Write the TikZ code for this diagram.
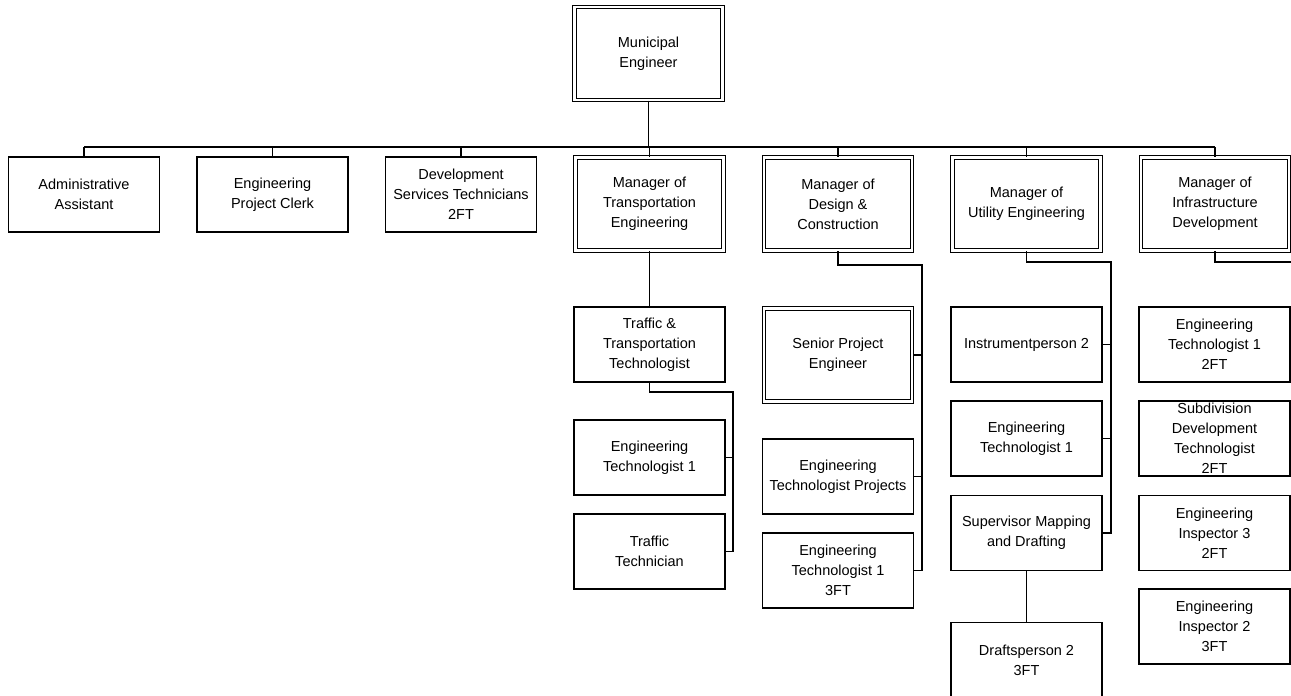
\documentclass[tikz,border=0pt]{standalone}
\usepackage{fontspec}
\setmainfont{Liberation Sans}
\usetikzlibrary{positioning}

\begin{document}
\begin{tikzpicture}[
  x=1pt,
  y=1pt,
  node distance=188.5pt
]

  \tikzstyle{postnode}=[draw,rectangle,line width=1.1pt,fill=white,minimum width=151pt,minimum height=75pt,inner sep=1pt,align=center,font=\fontsize{14.5}{20}\selectfont]
  \tikzstyle{postnodedbl}=[postnode,double,double distance=2.5pt,minimum width=148pt,minimum height=93pt]
  \tikzstyle{link}=[draw,line width=1.2pt]

  \useasboundingbox (0,0) rectangle (1291,696);
  \clip (0,0) rectangle (1291,696);

  % nodes
  \node[postnodedbl] (top) at (648.5,642.5) {Municipal\\Engineer};

  \node[postnode] (admin) at (84,501.5) {Administrative\\Assistant};
  \node[postnode] (clerk) [right of=admin] {Engineering\\Project Clerk};
  \node[postnode] (devtech) [right of=clerk] {Development\\Services Technicians\\2FT};
  \node[postnodedbl] (mtrans) [right of=devtech, yshift=-9.5pt] {Manager of\\Transportation\\Engineering};
  \node[postnodedbl] (mdesign) [right of=mtrans] {Manager of\\Design \&\\Construction};
  \node[postnodedbl] (mutil) [right of=mdesign] {Manager of\\Utility Engineering};
  \node[postnodedbl] (minfra) [right of=mutil] {Manager of\\Infrastructure\\Development};

  \node[postnode] (ttt) at (649.5,351.5) {Traffic \&\\Transportation\\Technologist};
  \node[postnode] (ttech) at (649.5,238.5) {Engineering\\Technologist 1};
  \node[postnode] (traffic) at (649.5,144.5) {Traffic\\Technician};

  \node[postnodedbl] (senior) at (838,341) {Senior Project\\Engineer};
  \node[postnode] (etproj) at (838,219.5) {Engineering\\Technologist Projects};
  \node[postnode] (et3) at (838,125.5) {Engineering\\Technologist 1\\3FT};

  \node[postnode] (instr) at (1026.5,351.5) {Instrumentperson 2};
  \node[postnode] (uet) at (1026.5,257.5) {Engineering\\Technologist 1};
  \node[postnode] (superv) at (1026.5,163) {Supervisor Mapping\\and Drafting};
  \node[postnode] (drafts) at (1026.5,36) {Draftsperson 2\\3FT};

  \node[postnode] (iet) at (1214.5,351.5) {Engineering\\Technologist 1\\2FT};
  \node[postnode] (subdiv) at (1214.5,257.5) {Subdivision\\Development\\Technologist\\2FT};
  \node[postnode] (insp3) at (1214.5,163) {Engineering\\Inspector 3\\2FT};
  \node[postnode] (insp2) at (1214.5,69.5) {Engineering\\Inspector 2\\3FT};

  % lines
  \coordinate (bar) at (0,549);
  \draw[link] (top.south) -- (top.south |- bar);
  \draw[link] (admin.north |- bar) -- (minfra.north |- bar);
  \foreach \n in {admin,clerk,devtech,mtrans,mdesign,mutil,minfra}
    \draw[link] (\n.north |- bar) -- (\n.north);

  \coordinate (ttrunk) at (733,304);
  \draw[link] (mtrans.south) -- (ttt.north);
  \draw[link] (ttt.south) |- (ttrunk) |- (traffic.east);
  \draw[link] (ttrunk |- ttech.east) -- (ttech.east);

  \coordinate (dtrunk) at (922,431);
  \draw[link] (mdesign.south) |- (dtrunk) |- (et3.east);
  \draw[link] (dtrunk |- senior.east) -- (senior.east);
  \draw[link] (dtrunk |- etproj.east) -- (etproj.east);

  \coordinate (utrunk) at (1111,434);
  \draw[link] (mutil.south) |- (utrunk) |- (superv.east);
  \draw[link] (utrunk |- instr.east) -- (instr.east);
  \draw[link] (utrunk |- uet.east) -- (uet.east);
  \draw[link] (superv.south) -- (drafts.north);

  \coordinate (itrunk) at (1298,434);
  \draw[link] (minfra.south) |- (itrunk) |- (insp2.east);
  \draw[link] (itrunk |- iet.east) -- (iet.east);
  \draw[link] (itrunk |- subdiv.east) -- (subdiv.east);
  \draw[link] (itrunk |- insp3.east) -- (insp3.east);

\end{tikzpicture}
\end{document}
